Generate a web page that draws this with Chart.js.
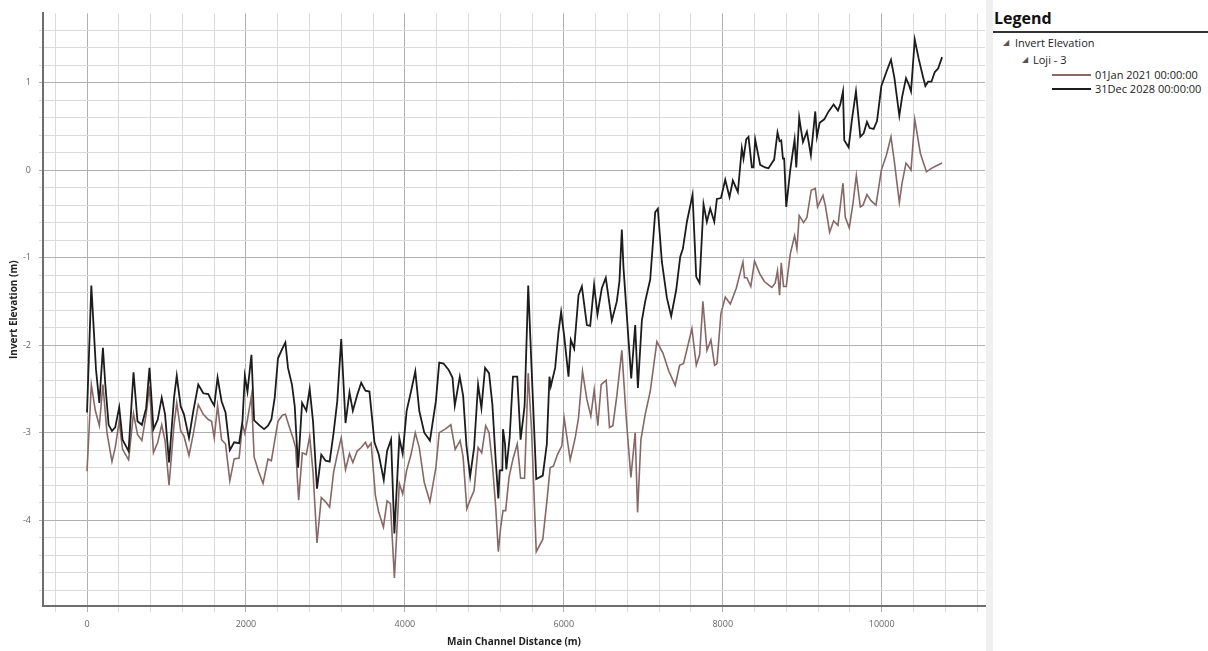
<!DOCTYPE html>
<html>
<head>
<meta charset="utf-8">
<script src="https://cdn.jsdelivr.net/npm/chart.js@4.4.0/dist/chart.umd.min.js"></script>
<style>
  body { margin: 0; background: #fff; font-family: "Open Sans", sans-serif; }
  #wrap { position: relative; width: 1208px; height: 651px; overflow: hidden; }
  #plot { position: absolute; left: 0; top: 0; }
  #strip { position: absolute; left: 986px; top: 0; width: 7px; height: 651px; background: #f0f0f0; }
  #legend { position: absolute; left: 993px; top: 0; width: 215px; height: 651px; color: #222; }
  #legend .title { position: absolute; left: 1px; top: 7px; font-size: 16px; font-weight: bold; color: #111; }
  #legend .rule { position: absolute; left: 0; top: 31px; width: 215px; height: 2px; background: #333; }
  #legend .row { position: absolute; font-size: 11px; line-height: 14px; white-space: nowrap; }
  #legend .tri { position: absolute; font-size: 8px; line-height: 14px; color: #555; font-family: "DejaVu Sans", sans-serif; }
  #legend .swatch { position: absolute; width: 39px; height: 2px; }
</style>
</head>
<body>
<div id="wrap">
  <canvas id="plot" width="986" height="651"></canvas>
  <div id="strip"></div>
  <div id="legend">
    <div class="title">Legend</div>
    <div class="rule"></div>
    <div class="tri" style="left:10px;top:36px;">◢</div>
    <div class="row" style="left:22px;top:36px;">Invert Elevation</div>
    <div class="tri" style="left:29px;top:53px;">◢</div>
    <div class="row" style="left:40px;top:53px;">Loji - 3</div>
    <div class="swatch" style="left:59px;top:74px;background:#876767;"></div>
    <div class="row" style="left:102px;top:68px;">01Jan 2021 00:00:00</div>
    <div class="swatch" style="left:59px;top:88px;background:#1c1c1c;"></div>
    <div class="row" style="left:102px;top:82px;">31Dec 2028 00:00:00</div>
  </div>
</div>
<script>
// Invert elevation profile, Loji - 3
const dist2021 = [0, 54, 105, 155, 200, 251, 314, 355, 405, 447,
  523, 585, 635, 690, 744, 786, 836, 890, 940, 982,
  1032, 1095, 1129, 1179, 1220, 1283, 1338, 1400, 1463, 1526,
  1568, 1601, 1643, 1693, 1743, 1797, 1852, 1914, 1956, 1986,
  2019, 2069, 2103, 2161, 2215, 2278, 2320, 2362, 2403, 2458,
  2496, 2541, 2592, 2625, 2663, 2709, 2759, 2802, 2844, 2894,
  2948, 3002, 3053, 3103, 3149, 3199, 3253, 3303, 3345, 3400,
  3450, 3504, 3533, 3575, 3629, 3671, 3730, 3776, 3818, 3868,
  3930, 3972, 4022, 4077, 4131, 4181, 4244, 4315, 4390, 4432,
  4507, 4578, 4633, 4695, 4733, 4779, 4829, 4871, 4921, 4967,
  5017, 5059, 5101, 5143, 5176, 5205, 5235, 5268, 5310, 5360,
  5414, 5456, 5506, 5552, 5594, 5653, 5735, 5786, 5828, 5870,
  5920, 5975, 6004, 6080, 6143, 6185, 6235, 6290, 6340, 6382,
  6428, 6470, 6533, 6575, 6617, 6667, 6730, 6785, 6844, 6898,
  6928, 6970, 7024, 7087, 7171, 7247, 7318, 7402, 7457, 7507,
  7612, 7667, 7709, 7750, 7801, 7851, 7897, 7927, 7977, 8032,
  8095, 8170, 8254, 8274, 8303, 8353, 8400, 8463, 8521, 8576,
  8618, 8660, 8689, 8715, 8736, 8765, 8799, 8849, 8904, 8933,
  8962, 9017, 9059, 9113, 9164, 9193, 9261, 9290, 9345, 9395,
  9450, 9513, 9542, 9592, 9639, 9681, 9731, 9765, 9815, 9865,
  9928, 9996, 10059, 10117, 10159, 10222, 10256, 10306, 10340, 10369,
  10416, 10487, 10563, 10626, 10689, 10760];
const elev2021 = [-3.44, -2.45, -2.75, -2.92, -2.45, -3.00, -3.33, -3.17, -2.87, -3.19,
  -3.31, -2.78, -3.02, -3.09, -2.79, -2.47, -3.23, -3.11, -2.91, -3.09,
  -3.60, -2.91, -2.66, -2.98, -3.04, -3.26, -3.01, -2.68, -2.79, -2.85,
  -2.87, -3.06, -2.69, -3.08, -3.13, -3.55, -3.30, -3.29, -2.90, -3.01,
  -2.85, -2.58, -3.28, -3.45, -3.58, -3.30, -3.32, -3.09, -2.87, -2.80,
  -2.79, -2.92, -3.06, -3.17, -3.77, -3.23, -3.25, -3.04, -3.45, -4.26,
  -3.74, -3.79, -3.85, -3.45, -3.25, -3.06, -3.42, -3.24, -3.34, -3.21,
  -3.17, -3.11, -3.17, -3.12, -3.72, -3.91, -4.08, -3.78, -3.81, -4.66,
  -3.58, -3.70, -3.43, -3.25, -3.00, -3.17, -3.57, -3.79, -3.40, -3.00,
  -2.96, -2.91, -3.19, -3.09, -3.28, -3.87, -3.75, -3.66, -3.17, -3.23,
  -2.92, -3.00, -3.36, -3.85, -4.36, -4.08, -3.89, -3.89, -3.51, -3.30,
  -3.13, -3.52, -3.52, -2.32, -2.98, -4.36, -4.22, -3.79, -3.40, -3.38,
  -3.25, -3.15, -2.83, -3.31, -3.06, -2.83, -2.30, -2.62, -2.81, -2.51,
  -2.92, -2.45, -2.40, -2.94, -2.92, -2.58, -2.06, -2.83, -3.51, -3.00,
  -3.91, -3.08, -2.79, -2.53, -1.96, -2.09, -2.29, -2.46, -2.23, -2.21,
  -1.81, -2.23, -2.11, -1.50, -2.06, -1.94, -2.23, -2.21, -1.64, -1.45,
  -1.53, -1.35, -1.05, -1.23, -1.23, -1.33, -1.04, -1.18, -1.27, -1.31,
  -1.34, -1.29, -1.15, -1.43, -1.06, -1.33, -1.33, -0.96, -0.75, -0.90,
  -0.52, -0.60, -0.54, -0.23, -0.21, -0.42, -0.29, -0.40, -0.71, -0.58,
  -0.63, -0.15, -0.54, -0.66, -0.38, -0.06, -0.42, -0.40, -0.28, -0.35,
  -0.40, 0.00, 0.17, 0.38, 0.10, -0.37, -0.15, 0.08, 0.04, 0.00,
  0.58, 0.19, -0.02, 0.02, 0.05, 0.08];

const dist2028 = [0, 54, 113, 155, 200, 230, 272, 314, 355, 405,
  447, 523, 585, 635, 690, 744, 786, 836, 890, 940,
  982, 1032, 1095, 1129, 1179, 1220, 1283, 1338, 1400, 1463,
  1526, 1568, 1601, 1643, 1693, 1743, 1797, 1852, 1914, 1956,
  1986, 2019, 2069, 2103, 2174, 2228, 2278, 2320, 2362, 2403,
  2458, 2496, 2529, 2579, 2614, 2656, 2706, 2760, 2802, 2844,
  2894, 2948, 3002, 3053, 3103, 3149, 3199, 3253, 3303, 3345,
  3400, 3450, 3504, 3554, 3617, 3671, 3734, 3776, 3826, 3868,
  3930, 3972, 4022, 4077, 4131, 4181, 4244, 4315, 4390, 4432,
  4486, 4549, 4599, 4628, 4691, 4733, 4775, 4821, 4871, 4921,
  4963, 5009, 5059, 5101, 5143, 5176, 5193, 5226, 5235, 5260,
  5276, 5318, 5360, 5414, 5456, 5506, 5552, 5594, 5653, 5735,
  5786, 5819, 5836, 5891, 5933, 5966, 6004, 6059, 6088, 6130,
  6185, 6227, 6290, 6332, 6381, 6423, 6478, 6528, 6604, 6667,
  6700, 6730, 6751, 6848, 6898, 6932, 6982, 7024, 7087, 7150,
  7183, 7234, 7297, 7351, 7414, 7465, 7498, 7549, 7620, 7666,
  7708, 7758, 7800, 7842, 7893, 7926, 7977, 8031, 8085, 8127,
  8190, 8240, 8261, 8295, 8324, 8366, 8387, 8408, 8471, 8534,
  8576, 8618, 8647, 8689, 8715, 8736, 8757, 8773, 8799, 8849,
  8904, 8925, 8962, 9009, 9059, 9109, 9164, 9185, 9219, 9277,
  9332, 9395, 9450, 9479, 9513, 9529, 9584, 9626, 9676, 9731,
  9773, 9815, 9849, 9899, 9941, 9996, 10059, 10117, 10159, 10222,
  10256, 10306, 10340, 10369, 10416, 10466, 10521, 10550, 10584, 10626,
  10668, 10710, 10760];
const elev2028 = [-2.77, -1.32, -2.28, -2.66, -2.03, -2.45, -2.91, -2.98, -2.94, -2.71,
  -3.08, -3.21, -2.31, -2.87, -2.91, -2.72, -2.26, -2.96, -2.85, -2.60,
  -2.79, -3.34, -2.60, -2.35, -2.70, -2.79, -3.06, -2.75, -2.45, -2.55,
  -2.56, -2.64, -2.69, -2.37, -2.64, -2.77, -3.20, -3.11, -3.12, -2.87,
  -2.35, -2.53, -2.11, -2.86, -2.92, -2.96, -2.92, -2.85, -2.60, -2.15,
  -2.04, -1.97, -2.26, -2.45, -2.70, -3.40, -2.66, -2.75, -2.50, -2.87,
  -3.64, -3.25, -3.32, -3.33, -3.00, -2.64, -1.93, -2.89, -2.54, -2.75,
  -2.57, -2.43, -2.52, -2.53, -3.11, -3.25, -3.54, -3.21, -3.08, -4.15,
  -3.06, -3.24, -2.75, -2.53, -2.30, -2.75, -3.00, -3.09, -2.64, -2.20,
  -2.21, -2.28, -2.37, -2.69, -2.36, -2.58, -3.15, -3.50, -3.17, -2.45,
  -2.72, -2.26, -2.32, -2.68, -3.32, -3.75, -3.43, -3.43, -2.96, -3.13,
  -3.42, -3.06, -2.36, -2.36, -3.08, -2.70, -1.32, -2.26, -3.53, -3.49,
  -3.13, -2.36, -2.47, -2.26, -1.85, -1.62, -1.89, -2.36, -1.94, -2.04,
  -1.43, -1.33, -1.77, -1.78, -1.31, -1.65, -1.35, -1.23, -1.72, -1.50,
  -1.27, -0.68, -1.12, -2.38, -1.77, -2.49, -1.72, -1.50, -1.25, -0.48,
  -0.44, -1.05, -1.46, -1.67, -1.37, -0.99, -0.90, -0.59, -0.28, -1.22,
  -1.29, -0.39, -0.59, -0.44, -0.59, -0.33, -0.32, -0.11, -0.31, -0.12,
  -0.25, 0.25, 0.13, 0.35, 0.38, 0.03, 0.03, 0.35, 0.06, 0.03,
  0.02, 0.08, 0.12, 0.43, 0.33, 0.34, 0.13, 0.13, -0.42, 0.00,
  0.35, 0.03, 0.60, 0.32, 0.44, 0.17, 0.67, 0.38, 0.54, 0.58,
  0.67, 0.75, 0.68, 0.75, 0.90, 0.34, 0.26, 0.58, 0.90, 0.38,
  0.42, 0.55, 0.48, 0.47, 0.56, 0.96, 1.12, 1.26, 1.06, 0.62,
  0.83, 1.05, 0.98, 0.90, 1.49, 1.27, 1.06, 0.96, 1.01, 1.01,
  1.12, 1.16, 1.29];

const seriesNames = ['01Jan 2021 00:00:00', '31Dec 2028 00:00:00'];

// grid positions: every 400 m / 0.2 m, labelled every 2000 m / 1 m
const xGrid = [];
for (let v = -400; v <= 11200; v += 400) xGrid.push(v);
const yGrid = [];
for (let k = -24; k <= 8; k++) yGrid.push(Math.round(k * 2) / 10);

function toPoints(xs, ys) {
  return xs.map((x, i) => ({ x: x, y: ys[i] }));
}

const isMajorX = v => Math.abs(v % 2000) < 1e-6;
const isMajorY = v => Math.abs(v - Math.round(v)) < 1e-6;

function gridColor(major) {
  return function(ctx) {
    const v = ctx.tick ? ctx.tick.value : 0;
    return major(v) ? '#b0b0b0' : '#dadada';
  };
}

Chart.defaults.font.family = '"Open Sans", sans-serif';

const ctx = document.getElementById('plot').getContext('2d');
const chart = new Chart(ctx, {
  type: 'line',
  data: {
    datasets: [{
      label: seriesNames[1],
      data: toPoints(dist2028, elev2028),
      borderColor: '#1c1c1c',
      borderWidth: 1.8,
      pointRadius: 0,
      tension: 0,
      order: 0
    }, {
      label: seriesNames[0],
      data: toPoints(dist2021, elev2021),
      borderColor: '#876767',
      borderWidth: 1.6,
      pointRadius: 0,
      tension: 0,
      order: 1
    }]
  },
  options: {
    responsive: false,
    animation: false,
    layout: { padding: { top: 10, right: 1, left: 0, bottom: 0 } },
    plugins: { legend: { display: false }, tooltip: { enabled: false } },
    scales: {
      x: {
        type: 'linear',
        min: -554,
        max: 11300,
        afterBuildTicks: axis => { axis.ticks = xGrid.map(v => ({ value: v })); },
        afterFit: s => { s.height = 45; },
        border: { color: '#6e6e6e', width: 2 },
        grid: { color: gridColor(isMajorX), tickLength: 6 },
        ticks: {
          autoSkip: false,
          maxRotation: 0,
          padding: 7,
          color: '#666',
          font: { size: 9 },
          callback: v => isMajorX(v) ? String(v) : ''
        },
        title: {
          display: true,
          text: 'Main Channel Distance (m)',
          color: '#222',
          font: { size: 10, weight: 'bold' },
          padding: { top: 0, bottom: 3 }
        }
      },
      y: {
        min: -4.98,
        max: 1.79,
        afterBuildTicks: axis => { axis.ticks = yGrid.map(v => ({ value: v })); },
        afterFit: s => { s.width = 43; },
        border: { color: '#6e6e6e', width: 2 },
        grid: { color: gridColor(isMajorY), tickLength: 4 },
        ticks: {
          autoSkip: false,
          padding: 8,
          color: '#666',
          font: { size: 9 },
          callback: v => isMajorY(v) ? String(Math.round(v)) : ''
        },
        title: {
          display: true,
          text: 'Invert Elevation (m)',
          color: '#222',
          font: { size: 10, weight: 'bold' },
          padding: { top: 8, bottom: 0 }
        }
      }
    }
  }
});
</script>
</body>
</html>
